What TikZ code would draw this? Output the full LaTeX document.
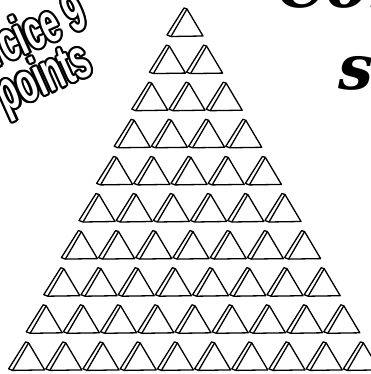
\documentclass[tikz,border=0pt]{standalone}
\usepackage{fontspec}
\setmainfont{Liberation Sans}
\newfontfamily\badgefont{Liberation Sans}
\newfontfamily\titlefont{DejaVu Serif}
\tikzset{prism/.style={draw=black, line width=1.3pt, line join=round,
  fill=white},
  badge/.style={font=\badgefont\bfseries\fontsize{56}{58}\selectfont,
  inner sep=0pt, anchor=base east, rotate=24, xscale=0.58},
  headline/.style={font=\titlefont\bfseries\itshape\fontsize{62}{62}\selectfont,
  inner sep=0pt, anchor=base west}}

\begin{document}
\begin{tikzpicture}[x=1pt, y=-1pt]
  \useasboundingbox (0,0) rectangle (371,374);
  \clip (0,0) rectangle (371,374);
  % outlined heading, top left
  \foreach \a in {0,30,...,330} {
    \node[badge, text=black] at ([shift={(\a:2.2)}]90,26) {Exercice 9};
    \node[badge, text=black] at ([shift={(\a:2.2)}]95,73) {points};
  }
  \node[badge, text=white] (exo) at (90,26) {Exercice 9};
  \node[badge, text=white] (pts) at (95,73) {points};
  % title, top right
  \node[headline] (title) at (277,8) {Com};
  \node[headline] (title2) at (338,90) {su};
  % pyramid of triangles
  \foreach \r in {0,...,9} {
    \foreach \i in {0,...,\r} {
      \pgfmathsetmacro{\xa}{167-17.6*\r+37.2*\i}
      \pgfmathsetmacro{\yb}{36+37.1*\r}
      \draw[prism] (\xa,\yb-1) -- (\xa+17,\yb-28) -- (\xa+20,\yb-27)
        -- (\xa+36,\yb) -- (\xa+4,\yb+0.5) -- cycle;
      \draw[prism] (\xa+20,\yb-27) -- (\xa+4,\yb+0.5);
    }
  }
\end{tikzpicture}
\end{document}
